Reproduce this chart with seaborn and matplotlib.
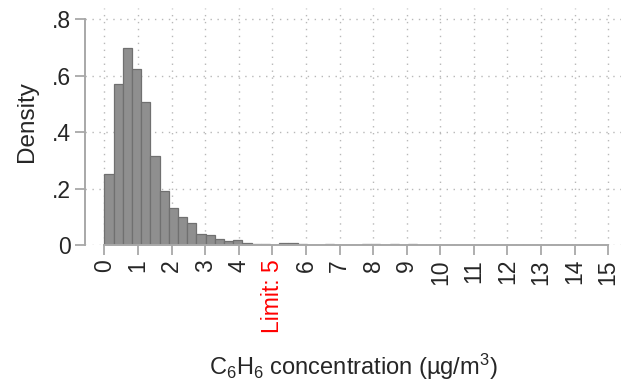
import numpy as np
import pandas as pd
import matplotlib
matplotlib.use('Agg')
import matplotlib.pyplot as plt
import seaborn as sns

# bin width and densities
bin_width = 0.274
densities = [0.250, 0.569, 0.696, 0.622, 0.506, 0.316, 0.190, 0.132, 0.100, 0.077,
             0.041, 0.035, 0.020, 0.014, 0.018, 0.006, 0.003, 0.003, 0.0, 0.007,
             0.007, 0.003, 0.0, 0.0, 0.003, 0.0, 0.0, 0.0, 0.003, 0.003,
             0.0, 0.003, 0.0, 0.003]
x_ticks = list(range(16))
x_tick_labels = [str(t) for t in x_ticks]
x_tick_labels[5] = 'Limit: 5'
y_ticks = [0, 0.2, 0.4, 0.6, 0.8]
y_tick_labels = ['0', '.2', '.4', '.6', '.8']

edges = [i * bin_width for i in range(len(densities) + 1)]
df = pd.DataFrame({'conc': [e + bin_width / 2 for e in edges[:-1]], 'dens': densities})

sns.set_style('white')
plt.rcParams['font.family'] = ['Liberation Sans', 'DejaVu Sans']
plt.rcParams['mathtext.default'] = 'regular'

fig = plt.figure(figsize=(6.21, 3.83), dpi=100)
ax = fig.add_axes([0.137, 0.36, 0.863, 0.619])

sns.histplot(data=df, x='conc', weights='dens', bins=edges, stat='count',
             color='#8f8f8f', edgecolor='#707070', linewidth=0.9, alpha=1, ax=ax)

ax.set_xlim(-0.574, 15.38)
ax.set_ylim(0, 0.839)
ax.set_xticks(x_ticks)
ax.set_xticklabels(x_tick_labels, rotation=90, fontsize=16.5)
ax.get_xticklabels()[5].set_color('red')
ax.set_yticks(y_ticks)
ax.set_yticklabels(y_tick_labels, fontsize=16.5)

ax.set_axisbelow(True)
ax.grid(True, linestyle=(0, (1, 4)), color='#b8b8b8', linewidth=1)

for side in ['top', 'right']:
    ax.spines[side].set_visible(False)
for side in ['left', 'bottom']:
    ax.spines[side].set_color('#a8a8a8')
    ax.spines[side].set_linewidth(1.4)
ax.spines['left'].set_bounds(0, 0.8)
ax.spines['bottom'].set_bounds(0, 15)
ax.tick_params(axis='both', direction='out', length=7, width=1.3, color='#a8a8a8',
               bottom=True, left=True, pad=3)

ax.set_xlabel('C$_6$H$_6$ concentration (µg/m$^3$)', fontsize=17, labelpad=14)
ax.set_ylabel('Density', fontsize=17.5)
ax.yaxis.set_label_coords(-0.088, 0.52)

fig.savefig('out.png', dpi=100)
